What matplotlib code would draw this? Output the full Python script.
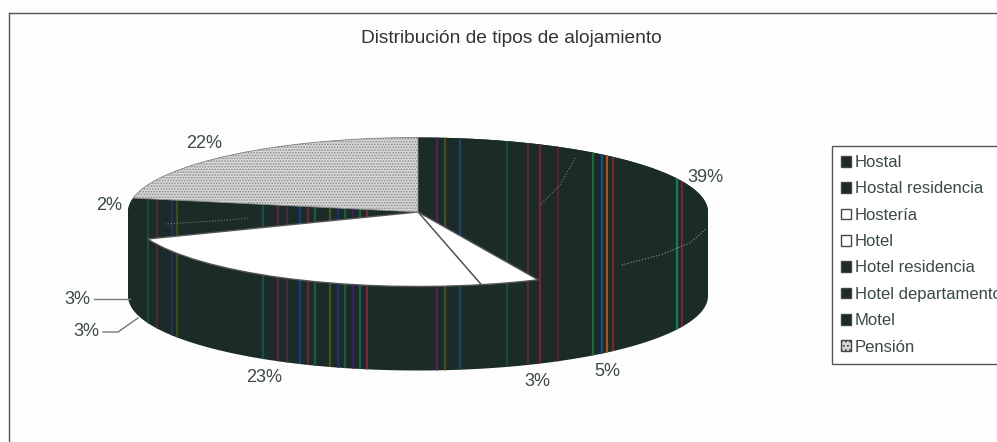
import matplotlib
matplotlib.use("Agg")
import matplotlib.pyplot as plt
from matplotlib.patches import Polygon, Rectangle
import numpy as np

plt.rcParams["font.family"] = ["Liberation Sans", "DejaVu Sans"]
plt.rcParams["hatch.linewidth"] = 0.8

title = "Distribución de tipos de alojamiento"
categories = ["Hostal", "Hostal residencia", "Hostería", "Hotel", "Hotel residencia",
              "Hotel departamento", "Motel", "Pensión"]
# unrounded shares estimated from the slice edges, they round to the printed labels
values = [38.6, 4.6, 3.3, 22.6, 3.4, 3.3, 2.2, 22.0]

DARK = "#1a2b28"
colors = [DARK, DARK, "white", "white", DARK, DARK, DARK, "#d8d8d8"]

# label centres, in pixels of the picture
label_x = [705, 607, 537, 264, 77, 86, 109, 204]
label_y = [177, 371, 381, 377, 299, 332, 205, 143]

# scan streaks on the dark part
streak_x = [148, 157, 172, 177, 263, 278, 287, 300, 308, 315, 330, 338, 345, 353, 360, 367,
            437, 445, 460, 507, 528, 540, 558, 593, 602, 607, 613, 677, 682]
streak_c = ["#1d4a35", "#4a2a35", "#22305a", "#3c4a1c", "#1d4a50", "#6a2040", "#4a2a40", "#1a3a80",
            "#6a2540", "#1d5a35", "#4a5020", "#23306a", "#1d5a40", "#40205a", "#1d5a50", "#7a2a3a",
            "#5a2050", "#4a4a1c", "#22406a", "#1d4a35", "#5a2a35", "#7a2030", "#5a2030", "#1d6a35",
            "#1a4a90", "#b05020", "#7a2a20", "#108050", "#7a2030"]

cx, cy, rx, ry, depth = 418, 212, 290, 74.5, 84
squash = ry / rx


def py(y):
    # picture pixel row to data units, the axes squash the y direction
    return (cy - y) / squash


fig = plt.figure(figsize=(9.97, 4.42), dpi=100, facecolor="#fdfdfd")
ax = fig.add_axes([0, 0, 1, 1])

wedges, _ = ax.pie(values, colors=colors, center=(cx, 0), radius=rx, startangle=90,
                   counterclock=False, wedgeprops={"linewidth": 0})
ax.set_aspect("auto")
ax.set_xlim(0, 997)
ax.set_ylim(py(442), py(0))
ax.set_axis_off()

# side wall plus back of the top face
t_back = np.linspace(0, np.pi, 120)
t_front = np.linspace(np.pi, 2 * np.pi, 120)
xs = np.r_[cx + rx * np.cos(t_back), cx + rx * np.cos(t_front)]
ys = np.r_[rx * np.sin(t_back), rx * np.sin(t_front) - depth / squash]
body = Polygon(np.c_[xs, ys], closed=True, fc=DARK, ec="none", zorder=1)
ax.add_patch(body)

streaks = ax.vlines(streak_x, py(442), py(0), colors=streak_c, linewidth=1.6, zorder=2)
streaks.set_clip_path(body)

# faint slice borders that survive on the dark area
ax.plot([622, 660, 690, 707], [py(265), py(255), py(243), py(228)], color="#8a9a95", lw=0.8, ls=":", zorder=2.5)
ax.plot([575, 560, 540], [py(158), py(185), py(205)], color="#6f7f7a", lw=0.8, ls=":", zorder=2.5)
ax.plot([165, 215, 250], [py(224), py(221), py(218)], color="#6f7f7a", lw=0.8, ls=":", zorder=2.5)

for w, c in zip(wedges, colors):
    if c == DARK:
        w.set_zorder(1.5)
    else:
        w.set_zorder(3)
wedges[2].set_edgecolor("#555555")
wedges[2].set_linewidth(1.0)
wedges[3].set_edgecolor("#555555")
wedges[3].set_linewidth(1.0)
wedges[7].set_hatch("......")
wedges[7].set_edgecolor("#8a8a8a")
wedges[7].set_linewidth(0.6)

for x, y, v in zip(label_x, label_y, values):
    ax.text(x, py(y), f"{v:.0f}%", ha="center", va="center", fontsize=13, color="#3a4a45", zorder=5)

# leader lines of the two small labels
ax.plot([94, 130], [py(299), py(299)], color="#777777", lw=1, zorder=4)
ax.plot([103, 118, 138], [py(332), py(332), py(318)], color="#777777", lw=1, zorder=4)

ax.text(511, py(38), title, ha="center", va="center", fontsize=13.8, color="#333333")

# outer frame, only top and left show in the crop
ax.plot([9, 9], [py(442), py(13)], color="#555555", lw=1)
ax.plot([9, 997], [py(13), py(13)], color="#555555", lw=1)

handles = []
for c, name in zip(colors, categories):
    h = Rectangle((0, 0), 1, 1, fc=c, ec="#444444", lw=1)
    if name == "Pensión":
        h.set_hatch("....")
    handles.append(h)
leg = ax.legend(handles, categories, loc="upper left", bbox_to_anchor=(832 / 997, 1 - 146 / 442),
                fontsize=12, frameon=True, fancybox=False, edgecolor="#555555", facecolor="white",
                handlelength=0.6, handleheight=0.6, handletextpad=0.2, labelspacing=0.68,
                borderpad=0.55, borderaxespad=0, framealpha=1, labelcolor="#3a4a45")
leg.get_frame().set_linewidth(1)

fig.savefig("out.png", dpi=100, facecolor=fig.get_facecolor())
